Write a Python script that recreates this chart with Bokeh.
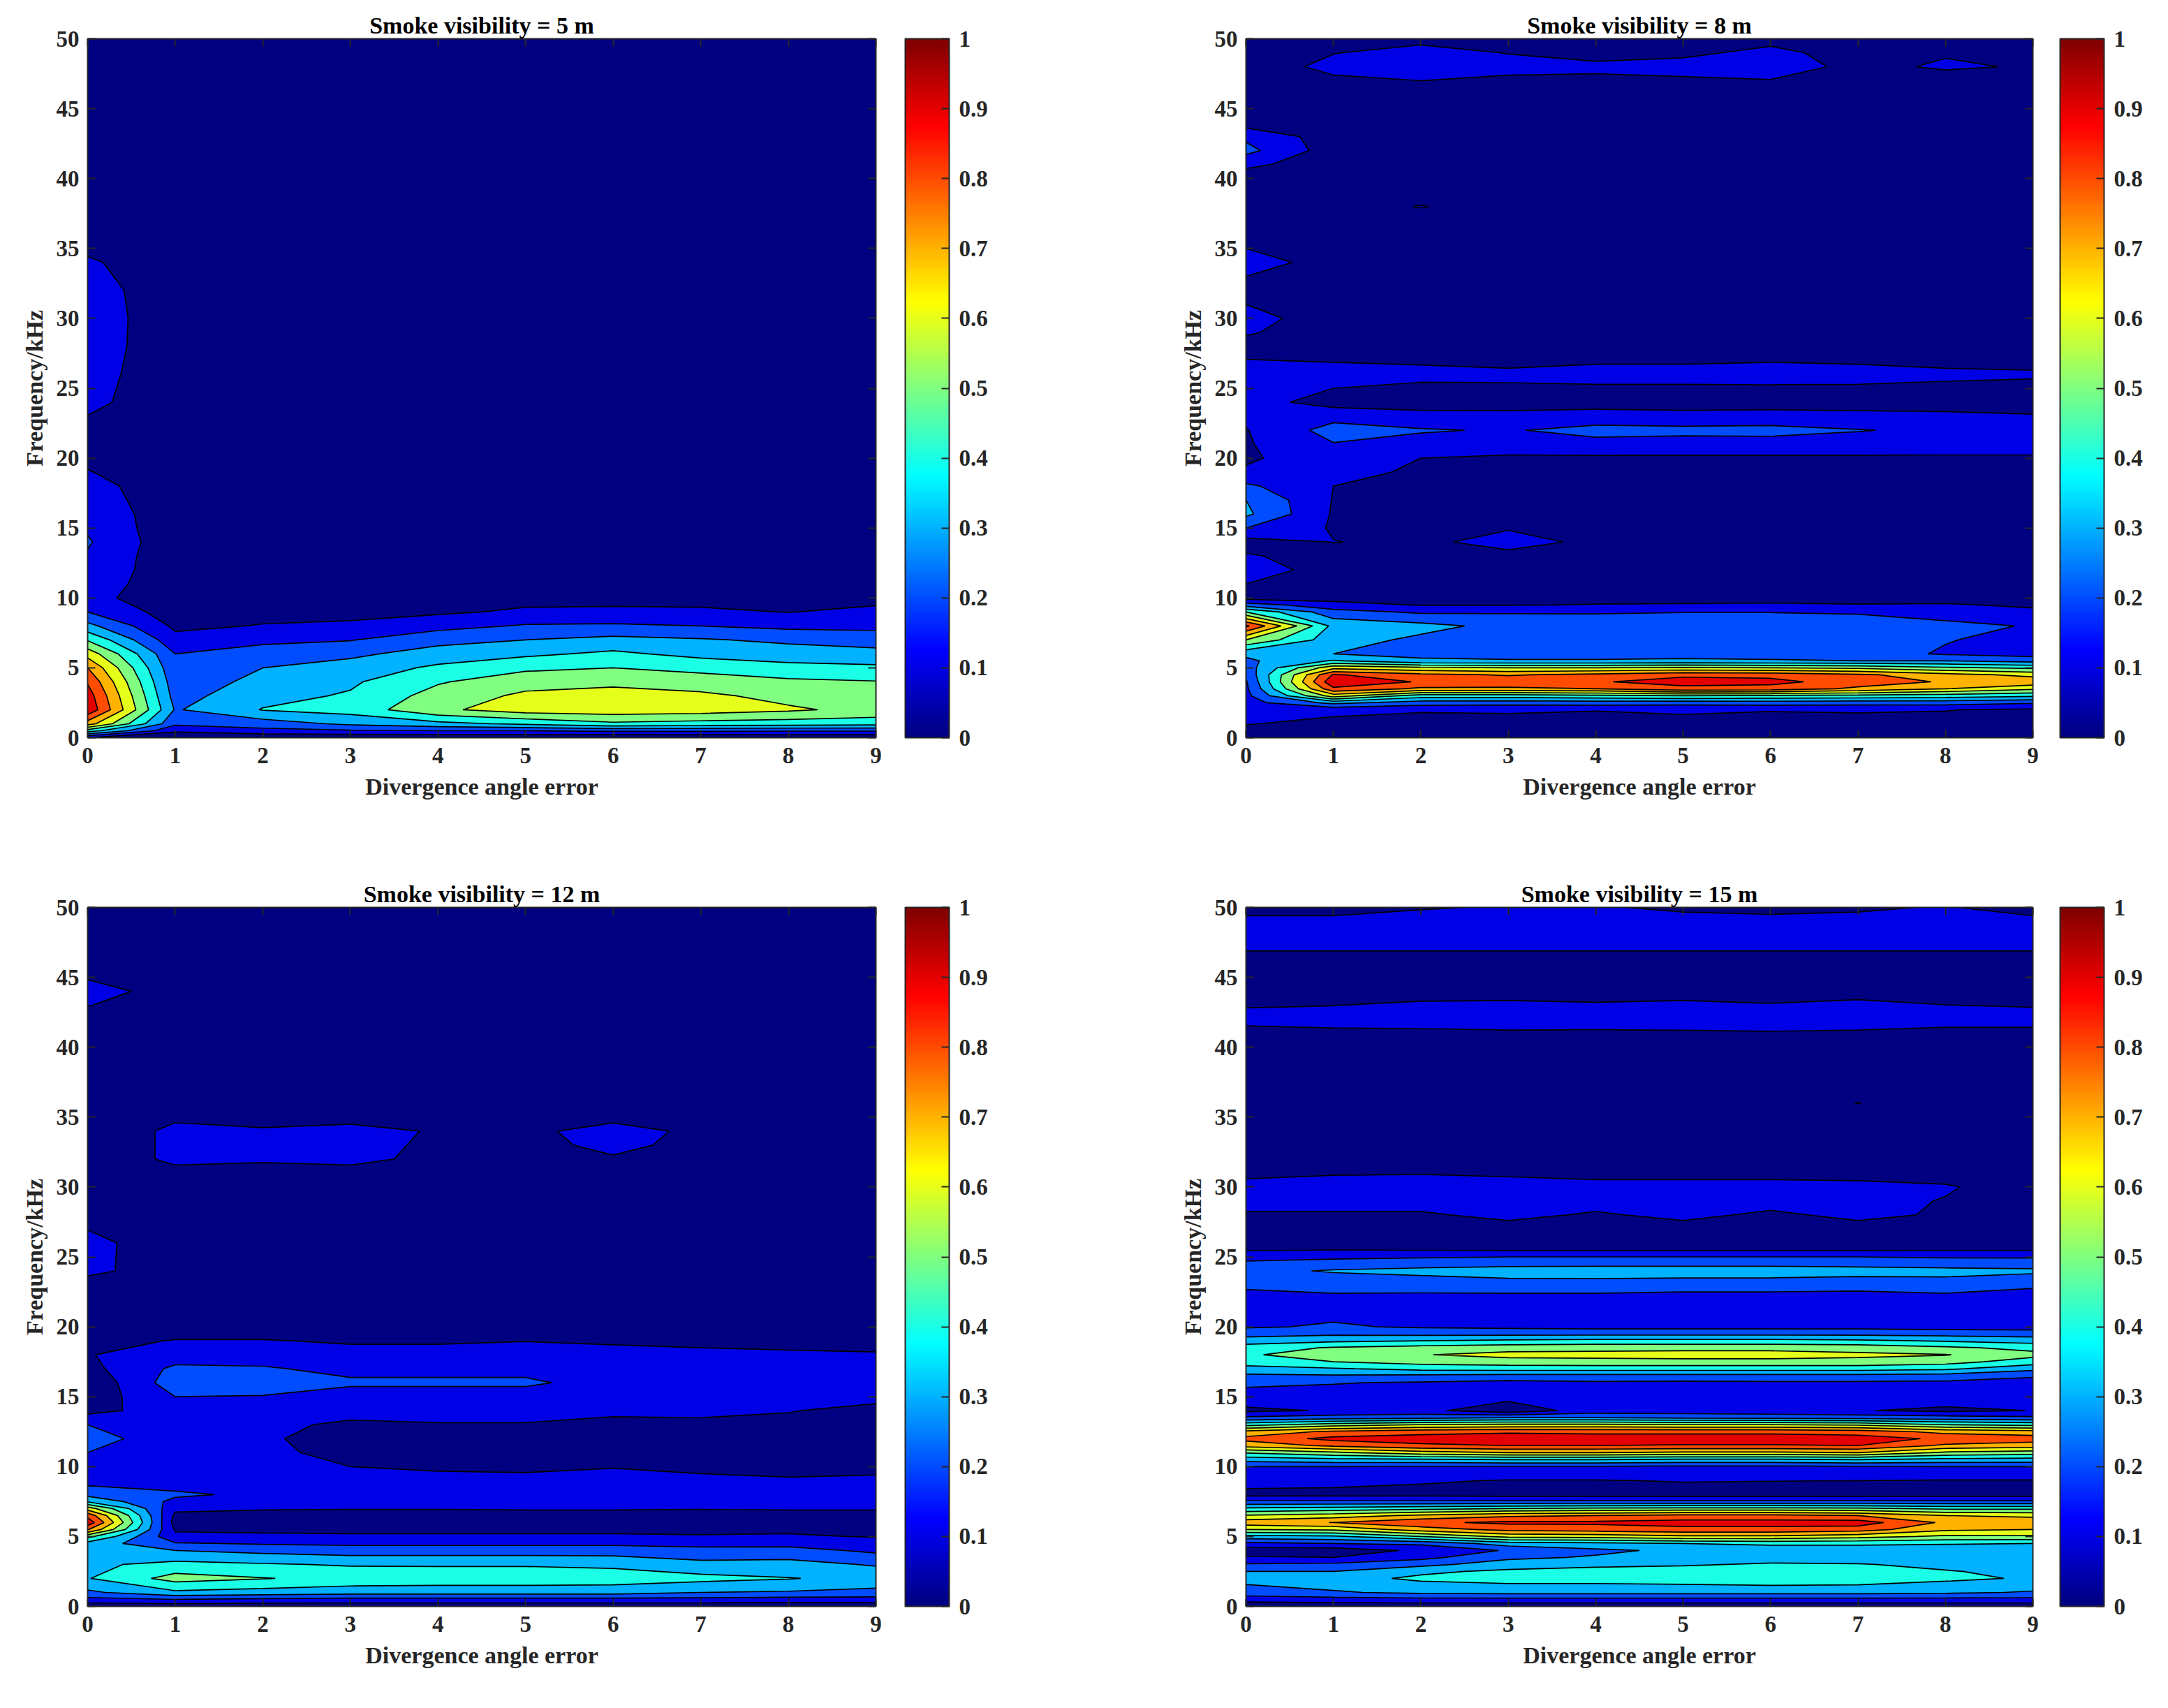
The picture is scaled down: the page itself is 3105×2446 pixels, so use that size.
from bokeh.plotting import figure
from bokeh.layouts import column, row
from bokeh.models import Range1d, LinearAxis, FixedTicker, ColorBar, LinearColorMapper
from bokeh.embed import file_html
from bokeh.resources import INLINE
import numpy as np

X = [0, 1, 2, 3, 4, 5, 6, 7, 8, 9]
LEVELS = [0, 0.1, 0.2, 0.3, 0.4, 0.5, 0.6, 0.7, 0.8, 0.9, 1]
TITLES = ["Smoke visibility = 5 m", "Smoke visibility = 8 m", "Smoke visibility = 12 m", "Smoke visibility = 15 m"]
X_LABEL = "Divergence angle error"
Y_LABEL = "Frequency/kHz"
X_TICKS = [0, 1, 2, 3, 4, 5, 6, 7, 8, 9]
Y_TICKS = [0, 5, 10, 15, 20, 25, 30, 35, 40, 45, 50]
CB_TICKS = [0, 0.1, 0.2, 0.3, 0.4, 0.5, 0.6, 0.7, 0.8, 0.9, 1]
CB_LABELS = ["0", "0.1", "0.2", "0.3", "0.4", "0.5", "0.6", "0.7", "0.8", "0.9", "1"]

Y1 = [0, .5, 1, 2, 3, 4, 5, 6, 7, 8, 9, 10, 11, 12, 13, 14, 15, 16, 17, 18, 19, 20, 22, 24, 26, 28, 30, 32, 34, 35, 36, 50]
Z1 = [
 [.10, .01, .01, .01, .01, .01, .01, .01, .01, .01],
 [.45, .12, .17, .19, .20, .20, .22, .22, .21, .21],
 [.75, .22, .25, .32, .37, .42, .48, .46, .45, .44],
 [.98, .29, .405, .44, .58, .65, .66, .65, .615, .57],
 [.95, .26, .37, .41, .54, .62, .65, .62, .57, .53],
 [.89, .24, .33, .385, .49, .56, .57, .55, .52, .505],
 [.80, .22, .30, .34, .42, .48, .50, .47, .43, .42],
 [.66, .20, .24, .28, .34, .38, .42, .37, .35, .33],
 [.49, .13, .18, .195, .27, .30, .33, .31, .28, .26],
 [.33, .08, .105, .115, .165, .21, .215, .20, .175, .17],
 [.20, .05, .07, .075, .085, .115, .12, .115, .098, .12],
 [.13, .04, .04, .04, .05, .07, .07, .07, .06, .075],
 [.16, .03, .03, .03, .03, .03, .03, .03, .03, .03],
 [.18, .03, .03, .03, .03, .03, .03, .03, .03, .03],
 [.19, .03, .03, .03, .03, .03, .03, .03, .03, .03],
 [.21, .03, .03, .03, .03, .03, .03, .03, .03, .03],
 [.19, .03, .03, .03, .03, .03, .03, .03, .03, .03],
 [.18, .03, .03, .03, .03, .03, .03, .03, .03, .03],
 [.157, .03, .03, .03, .03, .03, .03, .03, .03, .03],
 [.14, .03, .03, .03, .03, .03, .03, .03, .03, .03],
 [.105, .03, .03, .03, .03, .03, .03, .03, .03, .03],
 [.08, .03, .03, .03, .03, .03, .03, .03, .03, .03],
 [.07, .03, .03, .03, .03, .03, .03, .03, .03, .03],
 [.127, .03, .03, .03, .03, .03, .03, .03, .03, .03],
 [.143, .03, .03, .03, .03, .03, .03, .03, .03, .03],
 [.157, .03, .03, .03, .03, .03, .03, .03, .03, .03],
 [.16, .03, .03, .03, .03, .03, .03, .03, .03, .03],
 [.15, .03, .03, .03, .03, .03, .03, .03, .03, .03],
 [.115, .03, .03, .03, .03, .03, .03, .03, .03, .03],
 [.08, .03, .03, .03, .03, .03, .03, .03, .03, .03],
 [.03, .03, .03, .03, .03, .03, .03, .03, .03, .03],
 [.03, .03, .03, .03, .03, .03, .03, .03, .03, .03],
]

Y2 = [0, 1, 2, 2.5, 3, 3.5, 4, 4.5, 5, 5.5, 6, 7, 8, 9, 9.5, 10, 11, 12, 13, 14, 15, 16, 17, 18, 19, 20, 21, 22, 23, 24, 25, 26, 27, 28, 29, 30, 31, 32, 33, 34, 35, 36, 37, 38, 39, 40, 41, 42, 43, 44, 46, 47, 48, 49, 50]
Z2 = [
 [.03, .03, .03, .03, .03, .03, .03, .03, .03, .03],
 [.105, .07, .06, .06, .07, .07, .065, .065, .07, .075],
 [.15, .13, .11, .115, .103, .115, .105, .11, .103, .085],
 [.16, .33, .25, .24, .25, .24, .25, .24, .24, .21],
 [.17, .65, .45, .45, .47, .50, .48, .47, .45, .42],
 [.18, .88, .78, .78, .80, .87, .86, .78, .70, .62],
 [.19, .98, .89, .87, .89, .94, .93, .85, .79, .77],
 [.22, .91, .83, .79, .83, .88, .87, .82, .74, .67],
 [.25, .67, .62, .60, .60, .62, .60, .58, .52, .48],
 [.28, .41, .32, .31, .31, .32, .31, .30, .30, .26],
 [.32, .30, .27, .26, .26, .26, .26, .24, .19, .16],
 [.60, .34, .28, .27, .26, .26, .26, .25, .205, .17],
 [.92, .37, .33, .27, .26, .26, .26, .25, .215, .196],
 [.50, .235, .185, .19, .19, .197, .197, .19, .175, .12],
 [.25, .14, .095, .095, .105, .11, .115, .105, .11, .085],
 [.06, .06, .06, .06, .06, .06, .06, .06, .06, .06],
 [.10, .05, .05, .05, .05, .05, .05, .05, .05, .05],
 [.16, .05, .05, .05, .05, .05, .05, .05, .05, .05],
 [.11, .06, .05, .08, .05, .05, .05, .05, .05, .05],
 [.06, .102, .085, .125, .085, .05, .05, .05, .05, .05],
 [.20, .09, .06, .095, .06, .05, .05, .05, .05, .05],
 [.32, .09, .05, .06, .05, .05, .05, .05, .05, .05],
 [.30, .095, .05, .05, .05, .05, .05, .05, .05, .05],
 [.22, .10, .05, .05, .05, .05, .05, .05, .05, .05],
 [.11, .12, .09, .07, .07, .07, .07, .07, .07, .07],
 [.09, .14, .10, .085, .085, .085, .085, .085, .085, .085],
 [.09, .195, .16, .15, .16, .155, .155, .155, .15, .15],
 [.095, .24, .21, .19, .24, .23, .235, .205, .18, .17],
 [.12, .165, .125, .12, .13, .125, .13, .12, .115, .105],
 [.14, .06, .065, .07, .07, .065, .065, .07, .07, .07],
 [.14, .10, .085, .09, .09, .09, .09, .09, .085, .08],
 [.14, .13, .12, .115, .125, .125, .13, .125, .115, .11],
 [.102, .095, .09, .08, .09, .09, .095, .09, .08, .075],
 [.07, .05, .05, .05, .05, .05, .05, .05, .05, .05],
 [.11, .05, .05, .05, .05, .05, .05, .05, .05, .05],
 [.136, .05, .05, .05, .05, .05, .05, .05, .05, .05],
 [.10, .05, .05, .05, .05, .05, .05, .05, .05, .05],
 [.08, .05, .05, .05, .05, .05, .05, .05, .05, .05],
 [.10, .05, .05, .05, .05, .05, .05, .05, .05, .05],
 [.156, .05, .05, .05, .05, .05, .05, .05, .05, .05],
 [.10, .05, .05, .05, .05, .05, .05, .05, .05, .05],
 [.05, .05, .05, .05, .05, .05, .05, .05, .05, .05],
 [.05, .05, .05, .05, .05, .05, .05, .05, .05, .05],
 [.05, .05, .105, .05, .05, .05, .05, .05, .05, .05],
 [.05, .05, .05, .05, .05, .05, .05, .05, .05, .05],
 [.05, .05, .05, .05, .05, .05, .05, .05, .05, .05],
 [.12, .05, .05, .05, .05, .05, .05, .05, .05, .05],
 [.23, .05, .05, .05, .05, .05, .05, .05, .05, .05],
 [.18, .05, .05, .05, .05, .05, .05, .05, .05, .05],
 [.05, .05, .05, .05, .05, .05, .05, .05, .05, .05],
 [.05, .05, .05, .05, .05, .05, .05, .05, .05, .05],
 [.05, .083, .10, .08, .075, .085, .095, .05, .05, .05],
 [.05, .125, .16, .13, .125, .135, .155, .07, .115, .09],
 [.05, .097, .125, .097, .06, .08, .125, .06, .09, .05],
 [.05, .05, .08, .05, .05, .05, .07, .05, .05, .05],
]

Y3 = [0, .5, 1, 2, 3, 4, 4.5, 5, 5.5, 6, 6.5, 7, 7.5, 8, 9, 10, 11, 12, 13, 14, 15, 16, 17, 18, 19, 20, 22, 23, 24, 26, 27, 28, 30, 31, 32, 33, 34, 35, 36, 42, 43, 44, 45, 46, 50]
Z3 = [
 [.03, .03, .03, .03, .03, .03, .03, .03, .03, .03],
 [.17, .20, .18, .17, .17, .17, .17, .17, .16, .16],
 [.28, .38, .36, .34, .34, .34, .34, .30, .29, .27],
 [.395, .54, .505, .47, .46, .46, .45, .43, .405, .37],
 [.38, .43, .41, .39, .39, .39, .38, .33, .335, .29],
 [.32, .30, .27, .25, .25, .25, .25, .23, .235, .18],
 [.36, .21, .19, .18, .18, .18, .18, .17, .17, .14],
 [.53, .12, .115, .11, .11, .11, .11, .105, .11, .095],
 [.81, .09, .085, .085, .085, .085, .085, .085, .085, .08],
 [.97, .06, .06, .06, .06, .06, .06, .06, .06, .06],
 [.87, .08, .08, .08, .08, .08, .08, .08, .08, .08],
 [.65, .12, .105, .103, .103, .105, .105, .103, .105, .105],
 [.39, .17, .14, .12, .12, .12, .12, .12, .12, .12],
 [.27, .22, .175, .13, .13, .13, .13, .13, .13, .13],
 [.16, .14, .13, .12, .12, .12, .115, .11, .105, .11],
 [.16, .14, .13, .10, .09, .085, .098, .09, .085, .085],
 [.20, .13, .115, .08, .07, .07, .075, .07, .07, .07],
 [.25, .13, .11, .07, .065, .065, .065, .065, .065, .065],
 [.20, .13, .12, .085, .095, .095, .08, .08, .07, .07],
 [.067, .15, .15, .13, .13, .13, .115, .12, .105, .07],
 [.035, .20, .195, .16, .16, .16, .14, .14, .13, .13],
 [.02, .255, .25, .215, .215, .215, .165, .16, .15, .14],
 [.07, .22, .21, .175, .175, .175, .14, .135, .13, .125],
 [.095, .15, .155, .13, .13, .135, .125, .115, .11, .105],
 [.07, .105, .105, .09, .09, .098, .09, .085, .08, .08],
 [.05, .05, .05, .05, .05, .05, .05, .05, .05, .05],
 [.05, .05, .05, .05, .05, .05, .05, .05, .05, .05],
 [.06, .05, .05, .05, .05, .05, .05, .05, .05, .05],
 [.123, .05, .05, .05, .05, .05, .05, .05, .05, .05],
 [.125, .05, .05, .05, .05, .05, .05, .05, .05, .05],
 [.098, .05, .05, .05, .05, .05, .05, .05, .05, .05],
 [.05, .05, .05, .05, .05, .05, .05, .05, .05, .05],
 [.05, .05, .05, .05, .05, .05, .05, .05, .05, .05],
 [.05, .08, .07, .08, .05, .05, .05, .05, .05, .05],
 [.05, .115, .11, .115, .085, .05, .09, .05, .05, .05],
 [.05, .115, .12, .12, .089, .07, .125, .07, .05, .05],
 [.05, .115, .105, .115, .096, .08, .135, .08, .05, .05],
 [.05, .09, .085, .085, .05, .05, .075, .05, .05, .05],
 [.05, .05, .05, .05, .05, .05, .05, .05, .05, .05],
 [.05, .05, .05, .05, .05, .05, .05, .05, .05, .05],
 [.103, .05, .05, .05, .05, .05, .05, .05, .05, .05],
 [.15, .05, .05, .05, .05, .05, .05, .05, .05, .05],
 [.09, .05, .05, .05, .05, .05, .05, .05, .05, .05],
 [.05, .05, .05, .05, .05, .05, .05, .05, .05, .05],
 [.05, .05, .05, .05, .05, .05, .05, .05, .05, .05],
]

Y4 = [0, .5, 1, 2, 2.5, 3, 3.5, 4, 4.5, 5, 5.5, 6, 6.5, 7, 7.5, 8, 9, 10, 10.5, 11, 11.5, 12, 12.5, 13, 13.5, 14, 15, 16, 16.5, 17, 17.5, 18, 18.5, 19, 19.5, 20, 21, 22, 23, 24, 25, 25.5, 26, 27, 28, 29, 30, 31, 32, 35, 36, 37, 40, 41, 42, 43, 44, 46, 47, 48, 49, 50]
Z4 = [
 [.03, .03, .03, .03, .03, .03, .03, .03, .03, .03],
 [.14, .16, .17, .17, .17, .17, .17, .17, .17, .17],
 [.26, .29, .32, .33, .33, .33, .33, .33, .32, .29],
 [.33, .36, .42, .44, .44, .45, .47, .46, .42, .39],
 [.30, .30, .38, .42, .43, .44, .45, .45, .405, .38],
 [.21, .22, .27, .35, .38, .39, .41, .405, .38, .37],
 [.11, .10, .17, .28, .31, .34, .36, .36, .35, .35],
 [.05, .04, .12, .21, .28, .32, .34, .34, .33, .32],
 [.17, .20, .22, .35, .37, .40, .42, .42, .41, .40],
 [.36, .38, .50, .63, .64, .68, .68, .64, .58, .58],
 [.60, .62, .75, .83, .85, .87, .87, .85, .72, .70],
 [.76, .802, .88, .92, .92, .94, .94, .95, .78, .76],
 [.61, .65, .72, .78, .80, .83, .83, .80, .70, .68],
 [.42, .44, .47, .50, .52, .53, .53, .52, .48, .48],
 [.22, .22, .22, .22, .22, .22, .22, .22, .22, .22],
 [.07, .07, .07, .06, .06, .06, .06, .06, .06, .06],
 [.14, .13, .11, .095, .095, .105, .102, .10, .095, .095],
 [.20, .20, .19, .19, .19, .18, .18, .19, .20, .20],
 [.34, .37, .38, .40, .40, .38, .38, .40, .37, .36],
 [.51, .58, .66, .70, .70, .68, .68, .70, .58, .55],
 [.74, .82, .88, .90, .90, .89, .89, .90, .78, .75],
 [.83, .93, .95, .97, .96, .96, .96, .95, .88, .85],
 [.73, .82, .86, .88, .87, .87, .87, .85, .77, .74],
 [.46, .55, .60, .62, .62, .60, .60, .58, .50, .47],
 [.22, .25, .27, .30, .30, .28, .27, .26, .24, .22],
 [.08, .108, .125, .04, .145, .14, .13, .105, .08, .102],
 [.16, .16, .16, .13, .15, .15, .15, .15, .15, .15],
 [.22, .205, .19, .17, .185, .18, .185, .185, .18, .17],
 [.28, .29, .28, .27, .27, .27, .27, .27, .26, .21],
 [.37, .39, .43, .44, .44, .44, .44, .44, .42, .33],
 [.44, .50, .54, .56, .57, .57, .57, .57, .54, .45],
 [.49, .54, .595, .63, .63, .64, .64, .62, .605, .53],
 [.45, .51, .54, .56, .57, .57, .57, .56, .52, .47],
 [.35, .38, .40, .42, .43, .43, .43, .42, .39, .36],
 [.26, .28, .27, .27, .27, .27, .27, .27, .26, .25],
 [.19, .21, .19, .18, .17, .17, .17, .17, .16, .16],
 [.17, .18, .16, .14, .14, .13, .13, .13, .13, .13],
 [.18, .18, .17, .16, .16, .15, .15, .15, .16, .14],
 [.21, .23, .24, .26, .26, .25, .25, .24, .26, .22],
 [.27, .31, .33, .345, .35, .35, .35, .34, .33, .32],
 [.17, .18, .19, .20, .20, .20, .20, .20, .19, .19],
 [.09, .10, .095, .09, .09, .09, .09, .09, .09, .09],
 [.06, .06, .06, .06, .06, .06, .06, .06, .06, .06],
 [.06, .06, .06, .07, .06, .07, .06, .07, .06, .05],
 [.09, .09, .09, .12, .09, .12, .085, .12, .09, .05],
 [.13, .13, .13, .13, .13, .13, .13, .13, .095, .05],
 [.125, .13, .135, .13, .12, .12, .12, .115, .11, .05],
 [.082, .094, .096, .089, .082, .082, .082, .082, .06, .05],
 [.05, .05, .05, .05, .05, .05, .05, .05, .05, .05],
 [.05, .05, .05, .05, .05, .05, .05, .05, .05, .05],
 [.05, .05, .05, .05, .05, .05, .05, .102, .05, .05],
 [.05, .05, .05, .05, .05, .05, .05, .05, .05, .05],
 [.05, .05, .05, .05, .05, .05, .05, .05, .05, .05],
 [.066, .082, .085, .091, .09, .092, .095, .091, .078, .078],
 [.13, .13, .13, .13, .13, .13, .13, .13, .13, .13],
 [.093, .099, .112, .115, .108, .115, .105, .12, .101, .095],
 [.07, .07, .07, .07, .07, .07, .07, .07, .07, .07],
 [.06, .06, .06, .06, .06, .06, .06, .06, .06, .06],
 [.105, .105, .105, .105, .105, .105, .105, .105, .105, .105],
 [.15, .15, .15, .15, .15, .15, .15, .15, .15, .15],
 [.12, .12, .125, .125, .125, .12, .12, .12, .125, .12],
 [.07, .07, .095, .105, .105, .09, .08, .09, .105, .07],
]

FONT = "Liberation Serif"
INK = "#262626"


def jet(t):
    r = np.clip(np.minimum(4 * t - 1.5, -4 * t + 4.5), 0, 1)
    g = np.clip(np.minimum(4 * t - 0.5, -4 * t + 3.5), 0, 1)
    b = np.clip(np.minimum(4 * t + 0.5, -4 * t + 2.5), 0, 1)
    return "#%02x%02x%02x" % (int(round(r * 255)), int(round(g * 255)), int(round(b * 255)))


JET256 = [jet(i / 255) for i in range(256)]
BAND_FILLS = [jet(l) for l in LEVELS[:-1]]
FRAME_H = 1001


def style_axis(ax, ticks, labels=True):
    ax.ticker = FixedTicker(ticks=ticks)
    ax.minor_tick_line_color = None
    ax.major_tick_in = 11
    ax.major_tick_out = 0
    ax.major_tick_line_color = INK
    ax.major_tick_line_width = 2
    ax.axis_line_color = INK
    ax.axis_line_width = 2
    if labels:
        ax.major_label_text_font = FONT
        ax.major_label_text_font_style = "bold"
        ax.major_label_text_font_size = "33px"
        ax.major_label_text_color = INK
        ax.axis_label_text_font = FONT
        ax.axis_label_text_font_style = "bold"
        ax.axis_label_text_font_size = "34px"
        ax.axis_label_text_color = INK
    else:
        ax.major_label_text_font_size = "0px"
        ax.major_label_standoff = 0


def panel(title, ys, zs, frame_w, right, bottom, bar_gap):
    p = figure(frame_width=frame_w, frame_height=FRAME_H, x_range=Range1d(0, 9), y_range=Range1d(0, 50),
               toolbar_location=None, output_backend="svg", x_axis_label=X_LABEL, y_axis_label=Y_LABEL,
               min_border_left=125, min_border_right=right, min_border_top=55, min_border_bottom=bottom)
    p.contour(X, ys, np.array(zs), levels=LEVELS, fill_color=BAND_FILLS, line_color="black", line_width=1.7)
    p.grid.visible = False
    p.outline_line_color = None
    style_axis(p.xaxis[0], X_TICKS)
    style_axis(p.yaxis[0], Y_TICKS)
    p.xaxis[0].major_label_standoff = 14
    p.xaxis[0].axis_label_standoff = 12
    p.yaxis[0].major_label_standoff = 12
    p.yaxis[0].axis_label_standoff = 10
    top = LinearAxis()
    style_axis(top, X_TICKS, labels=False)
    p.add_layout(top, "above")
    rgt = LinearAxis()
    style_axis(rgt, Y_TICKS, labels=False)
    p.add_layout(rgt, "right")
    mapper = LinearColorMapper(palette=JET256, low=0, high=1)
    bar = ColorBar(color_mapper=mapper, ticker=FixedTicker(ticks=CB_TICKS),
                   major_label_overrides=dict(zip(CB_TICKS, CB_LABELS)),
                   width=63, height=FRAME_H, padding=0, margin=0, location=(bar_gap, 0),
                   major_tick_in=11, major_tick_out=0, major_tick_line_color=INK, major_tick_line_width=2,
                   minor_tick_line_color=None, bar_line_color=INK, bar_line_width=2,
                   major_label_text_font=FONT, major_label_text_font_style="bold",
                   major_label_text_font_size="33px", major_label_text_color=INK, label_standoff=14)
    p.add_layout(bar, "right")
    p.title.text = title
    p.title.align = "center"
    p.title.text_font = FONT
    p.title.text_font_style = "bold"
    p.title.text_font_size = "34px"
    p.title.text_color = "black"
    p.title.standoff = 2
    return p


p1 = panel(TITLES[0], Y1, Z1, 1129, 405, 188, 42)
p2 = panel(TITLES[1], Y2, Z2, 1127, 170, 188, 39)
p3 = panel(TITLES[2], Y3, Z3, 1129, 405, 130, 42)
p4 = panel(TITLES[3], Y4, Z4, 1127, 170, 130, 39)

page = column(row(p1, p2, spacing=0), row(p3, p4, spacing=0), spacing=0)
open("out.html", "w").write(file_html(page, INLINE))
